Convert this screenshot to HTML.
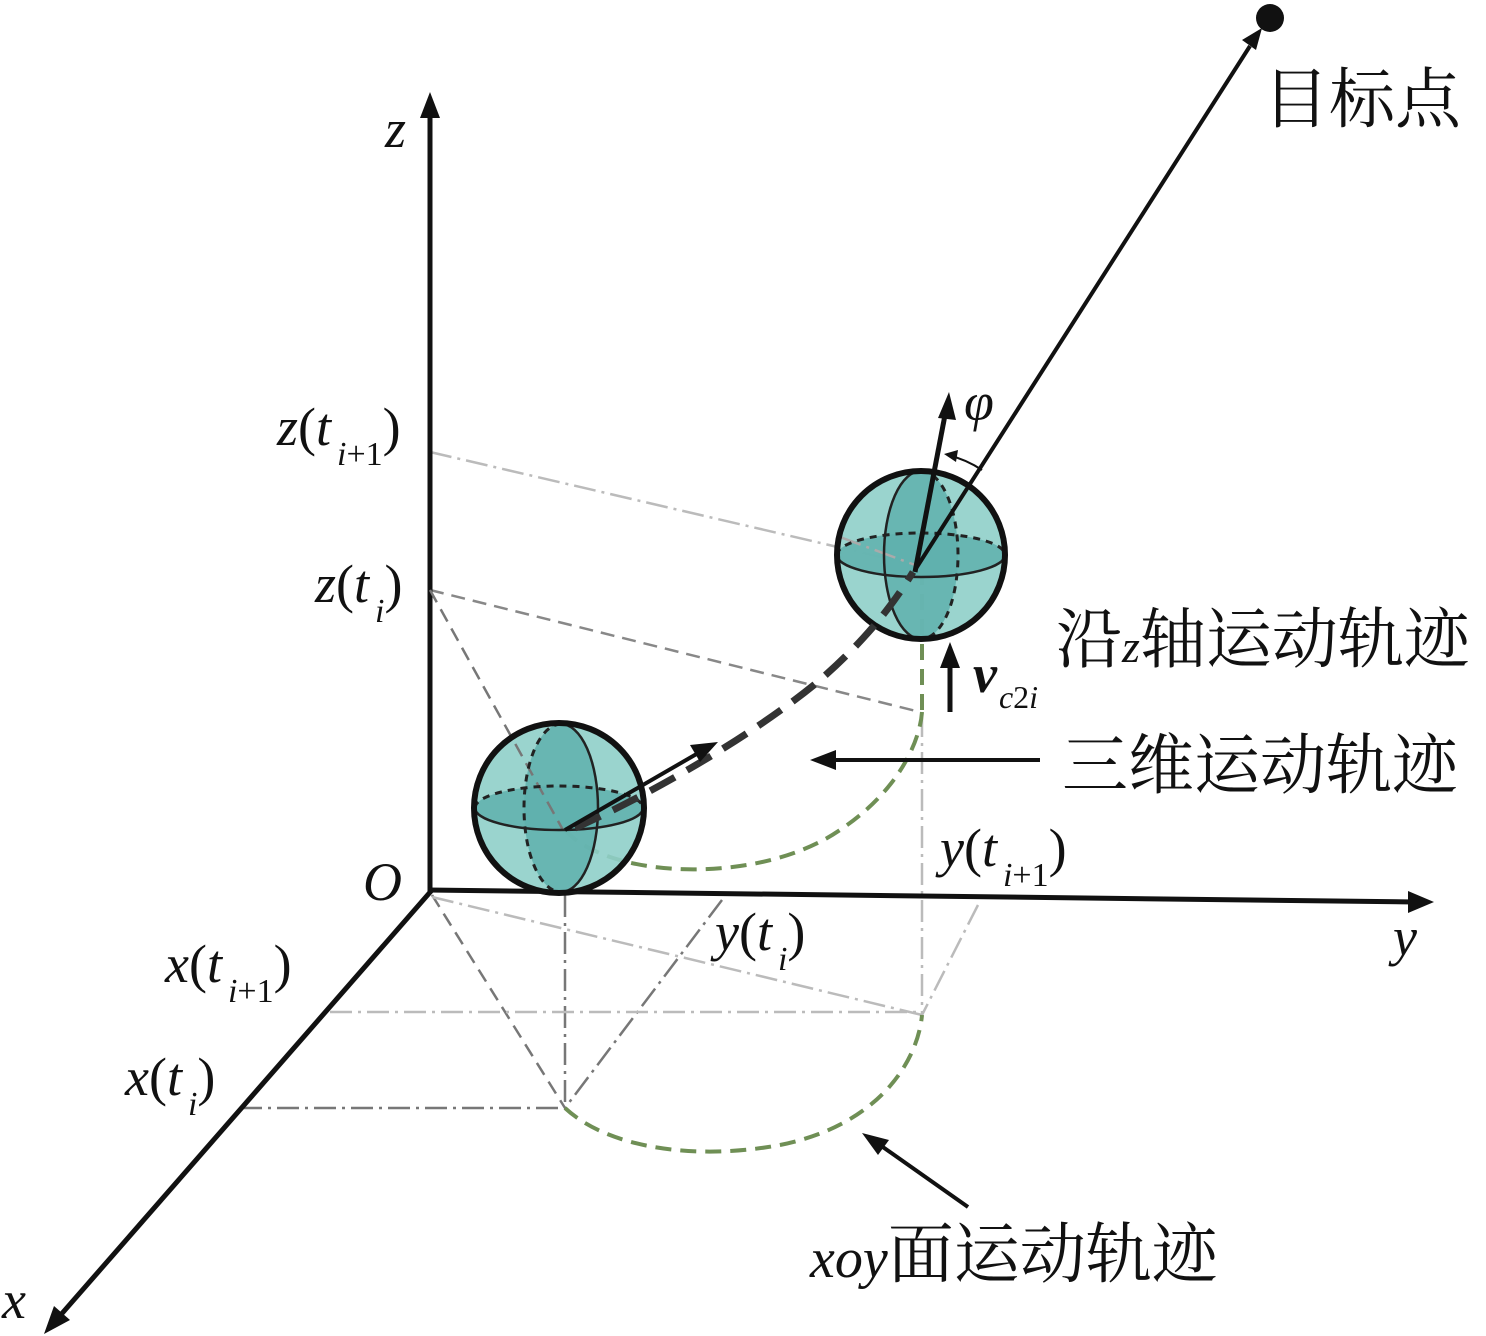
<!DOCTYPE html>
<html><head><meta charset="utf-8"><style>
html,body{margin:0;padding:0;background:#fff;}
svg{display:block;}
</style></head><body>
<svg width="1486" height="1336" viewBox="0 0 1486 1336" xmlns="http://www.w3.org/2000/svg">

<!-- guide lines -->
<g fill="none" stroke-width="2.5">
<line x1="430" y1="452" x2="915" y2="565" stroke="#bbb" stroke-dasharray="22,6,3,6"/>
<line x1="430" y1="590" x2="920" y2="712" stroke="#888" stroke-dasharray="14,8"/>
<line x1="432" y1="895" x2="565" y2="1108" stroke="#777" stroke-dasharray="14,8"/>
<line x1="565" y1="895" x2="565" y2="1108" stroke="#777" stroke-dasharray="22,6,3,6"/>
<line x1="722" y1="900" x2="565" y2="1108" stroke="#777" stroke-dasharray="22,6,3,6"/>
<line x1="432" y1="897" x2="922" y2="1015" stroke="#bbb" stroke-dasharray="22,6,3,6"/>
<line x1="330" y1="1012" x2="922" y2="1012" stroke="#bbb" stroke-dasharray="22,6,3,6"/>
<line x1="240" y1="1108" x2="565" y2="1108" stroke="#777" stroke-dasharray="22,6,3,6"/>
<line x1="922" y1="715" x2="922" y2="1015" stroke="#bbb" stroke-dasharray="22,6,3,6"/>
<line x1="978" y1="905" x2="922" y2="1015" stroke="#bbb" stroke-dasharray="22,6,3,6"/>
</g>

<!-- green trajectories -->
<g fill="none" stroke="#6f8f55" stroke-width="4" stroke-dasharray="16,9">
<path d="M565,830 C610,880 760,885 840,830 C900,790 920,740 922,712"/>
<path d="M922,710 L922,572"/>
<path d="M565,1108 C610,1150 700,1160 780,1145 C880,1125 918,1060 922,1015"/>
</g>

<!-- axes -->
<g stroke="#111" stroke-width="5" fill="none">
<line x1="430" y1="893" x2="430" y2="112"/>
<line x1="428" y1="890" x2="1415" y2="902"/>
<line x1="432" y1="890" x2="58" y2="1318"/>
</g>
<polygon points="430,92 420,118 440,118" fill="#111"/>
<polygon points="1434,902 1408,891 1408,913" fill="#111"/>
<polygon points="44,1334 54,1306 70,1320" fill="#111"/>

<!-- sphere 1 -->
<g>
<circle cx="559" cy="808" r="85" fill="#8fcfc9" fill-opacity="0.9"/>
<ellipse cx="559" cy="808" rx="84" ry="22" fill="#5fb0ad" fill-opacity="0.85"/>
<ellipse cx="561" cy="808" rx="37" ry="84" fill="#5fb0ad" fill-opacity="0.85"/>
<line x1="430" y1="590" x2="563" y2="830" stroke="#777" stroke-width="2.5" stroke-dasharray="14,8"/>
<path d="M475,808 A84,22 0 0 1 643,808" fill="none" stroke="#222" stroke-width="3" stroke-dasharray="7,6"/>
<path d="M561,724 A37,84 0 0 0 561,892" fill="none" stroke="#222" stroke-width="3" stroke-dasharray="7,6"/>
<path d="M475,808 A84,22 0 0 0 643,808" fill="none" stroke="#222" stroke-width="2.5"/>
<path d="M561,724 A37,84 0 0 1 561,892" fill="none" stroke="#222" stroke-width="2.5"/>
<circle cx="559" cy="808" r="85" fill="none" stroke="#111" stroke-width="6"/>
</g>

<!-- sphere 2 -->
<g>
<circle cx="921" cy="555" r="84" fill="#8fcfc9" fill-opacity="0.9"/>
<ellipse cx="921" cy="555" rx="84" ry="22" fill="#5fb0ad" fill-opacity="0.85"/>
<ellipse cx="921" cy="555" rx="37" ry="84" fill="#5fb0ad" fill-opacity="0.85"/>
<line x1="840" y1="537" x2="915" y2="565" stroke="#aaa" stroke-width="2.5" stroke-dasharray="22,6,3,6"/>
<path d="M837,555 A84,22 0 0 1 1005,555" fill="none" stroke="#222" stroke-width="3" stroke-dasharray="7,6"/>
<path d="M921,471 A37,84 0 0 1 921,639" fill="none" stroke="#222" stroke-width="3" stroke-dasharray="7,6"/>
<path d="M837,555 A84,22 0 0 0 1005,555" fill="none" stroke="#222" stroke-width="2.5"/>
<path d="M921,471 A37,84 0 0 0 921,639" fill="none" stroke="#222" stroke-width="2.5"/>
<circle cx="921" cy="555" r="84" fill="none" stroke="#111" stroke-width="6"/>
</g>

<!-- 3D trajectory -->
<path d="M575,828 C660,790 760,730 820,680 C860,645 890,610 913,572" fill="none" stroke="#333" stroke-width="7" stroke-dasharray="28,14"/>

<!-- arrows -->
<line x1="565" y1="830" x2="700" y2="752" stroke="#111" stroke-width="4"/>
<polygon points="718,742 690,745 700,762" fill="#111"/>
<line x1="915" y1="570" x2="1250" y2="46" stroke="#111" stroke-width="4"/>
<polygon points="1262,28 1242,40 1256,50" fill="#111"/>
<circle cx="1270" cy="18" r="14" fill="#111"/>
<line x1="915" y1="572" x2="945" y2="415" stroke="#111" stroke-width="5"/>
<polygon points="949,392 938,418 956,420" fill="#111"/>
<path d="M982,470 C970,462 960,458 948,455" fill="none" stroke="#111" stroke-width="2"/>
<polygon points="944,454 958,450 956,462" fill="#111"/>
<line x1="950" y1="712" x2="950" y2="664" stroke="#111" stroke-width="5"/>
<polygon points="950,642 940,668 960,668" fill="#111"/>
<line x1="1040" y1="760" x2="834" y2="760" stroke="#111" stroke-width="4"/>
<polygon points="810,760 836,750 836,770" fill="#111"/>
<line x1="968" y1="1207" x2="880" y2="1145" stroke="#111" stroke-width="4"/>
<polygon points="862,1133 878,1155 889,1140" fill="#111"/>

<!-- labels -->
<g fill="#111" font-size="54" font-style="italic" font-family="'Liberation Serif', 'DejaVu Serif', serif" style="font-family:'Liberation Serif','DejaVu Serif',serif;font-style:italic">
<text x="385" y="147">z</text>
<text x="277" y="445">z<tspan font-style="normal" style="font-style:normal">(</tspan>t<tspan font-size="34" dx="6" dy="20">i</tspan><tspan font-style="normal" style="font-style:normal" font-size="34">+1</tspan><tspan font-style="normal" style="font-style:normal" dy="-20">)</tspan></text>
<text x="315" y="602">z<tspan font-style="normal" style="font-style:normal">(</tspan>t<tspan font-size="34" dx="6" dy="20">i</tspan><tspan font-style="normal" style="font-style:normal" dy="-20">)</tspan></text>
<text x="363" y="900">O</text>
<text x="165" y="982">x<tspan font-style="normal" style="font-style:normal">(</tspan>t<tspan font-size="34" dx="6" dy="20">i</tspan><tspan font-style="normal" style="font-style:normal" font-size="34">+1</tspan><tspan font-style="normal" style="font-style:normal" dy="-20">)</tspan></text>
<text x="125" y="1095">x<tspan font-style="normal" style="font-style:normal">(</tspan>t<tspan font-size="34" dx="6" dy="20">i</tspan><tspan font-style="normal" style="font-style:normal" dy="-20">)</tspan></text>
<text x="715" y="950">y<tspan font-style="normal" style="font-style:normal">(</tspan>t<tspan font-size="34" dx="6" dy="20">i</tspan><tspan font-style="normal" style="font-style:normal" dy="-20">)</tspan></text>
<text x="940" y="866">y<tspan font-style="normal" style="font-style:normal">(</tspan>t<tspan font-size="34" dx="6" dy="20">i</tspan><tspan font-style="normal" style="font-style:normal" font-size="34">+1</tspan><tspan font-style="normal" style="font-style:normal" dy="-20">)</tspan></text>
<text x="1393" y="955">y</text>
<text x="2" y="1318">x</text>
<text x="964" y="420">φ</text>
<text x="973" y="692" font-weight="bold" style="font-weight:bold">v<tspan font-size="32" font-weight="normal" style="font-weight:normal" dx="2" dy="16">c</tspan><tspan font-style="normal" style="font-style:normal;font-weight:normal" font-size="32">2</tspan><tspan font-size="32" style="font-weight:normal">i</tspan></text>
</g>
<g fill="#111" font-size="66" font-family="'Liberation Serif', 'Noto Serif CJK SC', serif" style="font-family:'Liberation Serif','Noto Serif CJK SC',serif">
<text x="1263" y="122">目标点</text>
<text x="1056" y="662">沿<tspan font-style="italic" style="font-style:italic" font-size="46">z</tspan>轴运动轨迹</text>
<text x="1062" y="788">三维运动轨迹</text>
<text x="810" y="1277"><tspan font-style="italic" style="font-style:italic" font-size="56">xoy</tspan>面运动轨迹</text>
</g>
</svg>
</body></html>
